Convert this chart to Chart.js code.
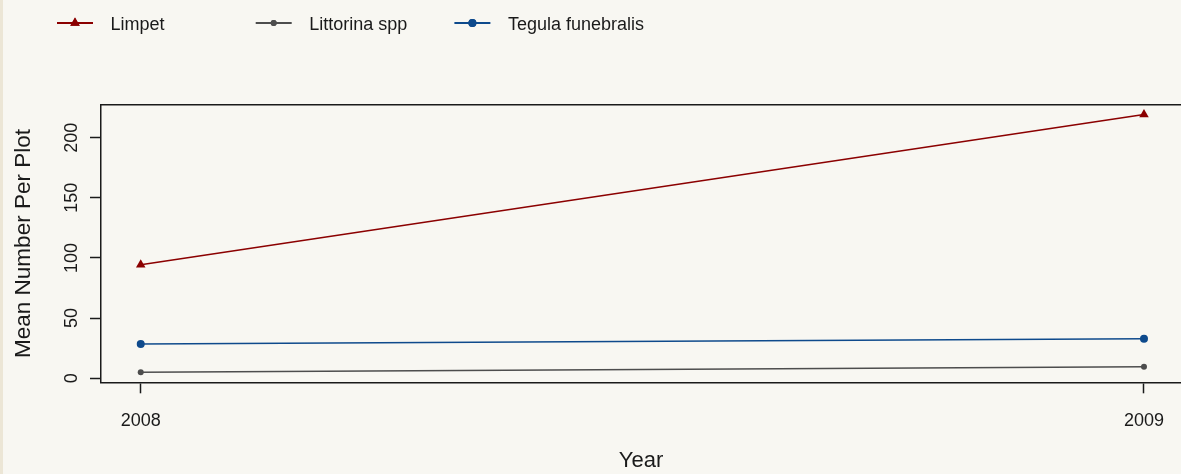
<!DOCTYPE html>
<html>
<head>
<meta charset="utf-8">
<script src="https://cdn.jsdelivr.net/npm/chart.js@4/dist/chart.umd.min.js"></script>
<style>
  html, body { margin: 0; padding: 0; overflow: hidden; }
  body { background: linear-gradient(to right, #ECE6D6 0 3px, #F8F7F2 3px); }
  #chart { display: block; }
</style>
</head>
<body>
<canvas id="chart" width="1181" height="474"></canvas>
<script>
// values
const years = [2008, 2009];
const limpet = [94.3, 219.3];
const littorina = [5.0, 9.6];
const tegula = [28.5, 32.9];
const yTicks = [0, 50, 100, 150, 200];

const FONT = 'Liberation Sans, Arial, sans-serif';
const INK = '#1a1a1a';

const toPoints = vals => years.map((yr, i) => ({ x: yr, y: vals[i] }));

// legend drawn at the top (line + marker + label)
const legendPlugin = {
    id: 'topLegend',
    afterDraw(chart) {
        const ctx = chart.ctx;
        const y = 23;
        chart.data.datasets.forEach((ds, i) => {
            const x0 = 57 + i * 198.7;
            ctx.save();
            ctx.strokeStyle = ds.borderColor;
            ctx.lineWidth = 1.8;
            ctx.beginPath();
            ctx.moveTo(x0, y);
            ctx.lineTo(x0 + 36, y);
            ctx.stroke();
            ctx.fillStyle = ds.borderColor;
            Chart.helpers.drawPoint(ctx, {
                pointStyle: ds.pointStyle,
                radius: ds.pointRadius,
                borderWidth: 0
            }, x0 + 18, y);
            ctx.fill();
            ctx.fillStyle = INK;
            ctx.font = '18px ' + FONT;
            ctx.textBaseline = 'middle';
            ctx.fillText(ds.label, x0 + 53.5, y + 2.5);
            ctx.restore();
        });
    }
};

// top edge of the plot box
const boxPlugin = {
    id: 'boxTop',
    afterDraw(chart) {
        const { left, right, top } = chart.chartArea;
        const ctx = chart.ctx;
        ctx.save();
        ctx.strokeStyle = INK;
        ctx.lineWidth = 1.5;
        ctx.beginPath();
        ctx.moveTo(left, top);
        ctx.lineTo(right, top);
        ctx.stroke();
        ctx.restore();
    }
};

new Chart(document.getElementById('chart'), {
    type: 'line',
    data: {
        datasets: [
            {
                label: 'Limpet',
                data: toPoints(limpet),
                borderColor: '#8B0000',
                backgroundColor: '#8B0000',
                pointStyle: 'triangle',
                pointRadius: 5.5
            },
            {
                label: 'Littorina spp',
                data: toPoints(littorina),
                borderColor: '#4D4D4D',
                backgroundColor: '#4D4D4D',
                pointStyle: 'circle',
                pointRadius: 3
            },
            {
                label: 'Tegula funebralis',
                data: toPoints(tegula),
                borderColor: '#0E4A8C',
                backgroundColor: '#0E4A8C',
                pointStyle: 'circle',
                pointRadius: 4
            }
        ]
    },
    options: {
        responsive: false,
        animation: false,
        devicePixelRatio: 1,
        elements: {
            line: { borderWidth: 1.5, tension: 0 },
            point: { borderWidth: 0, hoverRadius: 5 }
        },
        layout: { autoPadding: false, padding: { top: 104.7, left: 0, right: 0, bottom: 0 } },
        plugins: { legend: { display: false }, tooltip: { enabled: false } },
        scales: {
            x: {
                type: 'linear',
                min: 2007.9604,
                max: 2009.0369,
                afterBuildTicks: s => { s.ticks = years.map(v => ({ value: v })); },
                afterFit: s => {
                    s.height = 474 - 382.3;
                    s.paddingLeft = 0;
                    s.paddingRight = 0;
                },
                grid: { drawOnChartArea: false, drawTicks: true, tickLength: 11, tickWidth: 1.5, tickColor: INK },
                border: { display: true, color: INK, width: 1.5 },
                ticks: {
                    autoSkip: false,
                    maxRotation: 0,
                    padding: 17,
                    color: INK,
                    font: { family: FONT, size: 18 },
                    callback: v => String(v)
                },
                title: {
                    display: true,
                    text: 'Year',
                    color: INK,
                    font: { family: FONT, size: 22 },
                    padding: { top: -4, bottom: 0 }
                }
            },
            y: {
                min: -3.4,
                max: 227.4,
                afterBuildTicks: s => { s.ticks = yTicks.map(v => ({ value: v })); },
                afterFit: s => {
                    s.width = 101;
                    s.paddingTop = 0;
                    s.paddingBottom = 0;
                },
                grid: { drawOnChartArea: false, drawTicks: true, tickLength: 11, tickWidth: 1.5, tickColor: INK },
                border: { display: true, color: INK, width: 1.5 },
                ticks: {
                    autoSkip: false,
                    minRotation: 90,
                    maxRotation: 90,
                    crossAlign: 'center',
                    padding: 3,
                    color: INK,
                    font: { family: FONT, size: 18 }
                },
                title: {
                    display: true,
                    text: 'Mean Number Per Plot',
                    color: INK,
                    font: { family: FONT, size: 22.5 },
                    padding: { top: 10, bottom: 0 }
                }
            }
        }
    },
    plugins: [legendPlugin, boxPlugin]
});
</script>
</body>
</html>
